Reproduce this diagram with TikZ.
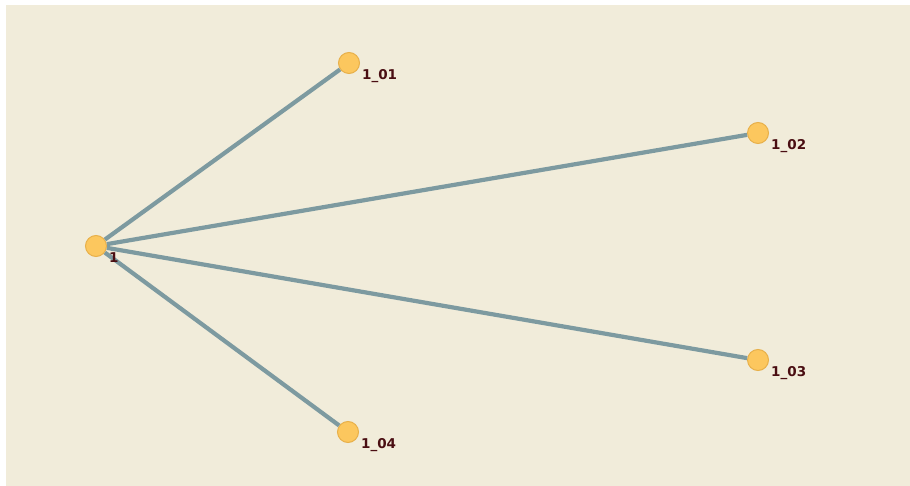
\documentclass[tikz,border=0pt]{standalone}
\usepackage{fontspec}
\newfontfamily\lblfont{DejaVu Sans}
\definecolor{bgbeige}{HTML}{F1ECDA}
\definecolor{nodefill}{HTML}{FCC75E}
\definecolor{nodeedge}{HTML}{E8B04A}
\definecolor{edgecol}{HTML}{7D9AA0}
\definecolor{lblcol}{HTML}{4A0E12}
\begin{document}
\begin{tikzpicture}[x=1pt,y=-1pt,
  vert/.style={circle,fill=nodefill,draw=nodeedge,line width=1pt,minimum size=21pt,inner sep=0pt},
  lbl/.style={anchor=north west,inner sep=0pt,text=lblcol,font=\lblfont\bfseries\fontsize{13.5pt}{14pt}\selectfont},
  conn/.style={draw=edgecol,line width=4.2pt}]
\fill[white] (0,0) rectangle (910,486);
\fill[bgbeige] (6,5) rectangle (910,486);
\useasboundingbox (0,0) rectangle (910,486);
\node[vert] (n1) at (96,246) {};
\node[vert] (n101) at (349,63) {};
\node[vert] (n102) at (758,133) {};
\node[vert] (n103) at (758,360) {};
\node[vert] (n104) at (348,432) {};
\draw[conn] (n1) -- (n101);
\draw[conn] (n1) -- (n102);
\draw[conn] (n1) -- (n103);
\draw[conn] (n1) -- (n104);
\node[lbl] (l1) at ([shift={(13,6)}]n1.center) {1};
\node[lbl] (l101) at ([shift={(13,6)}]n101.center) {1\_01};
\node[lbl] (l102) at ([shift={(13,6)}]n102.center) {1\_02};
\node[lbl] (l103) at ([shift={(13,6)}]n103.center) {1\_03};
\node[lbl] (l104) at ([shift={(13,6)}]n104.center) {1\_04};
\end{tikzpicture}
\end{document}
